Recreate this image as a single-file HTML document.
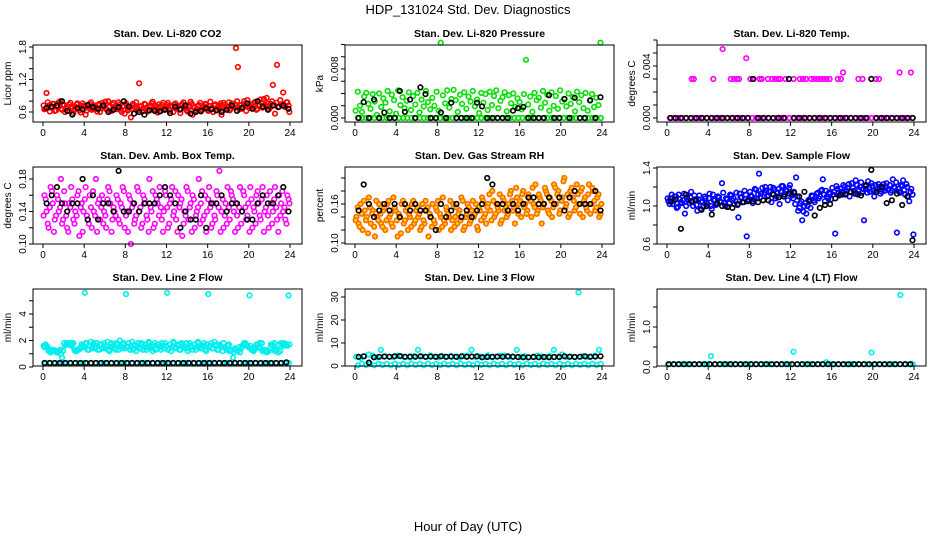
<!DOCTYPE html>
<html><head><meta charset="utf-8"><style>
html,body{margin:0;padding:0;background:#fff}
svg{display:block;font-family:"Liberation Sans",Arial,sans-serif}
</style></head><body>
<svg id="chart" width="936" height="540" viewBox="0 0 936 540" xmlns="http://www.w3.org/2000/svg">
<rect width="936" height="540" fill="#fff"/>
<text x="468" y="14" font-size="13" text-anchor="middle">HDP_131024  Std. Dev. Diagnostics</text>
<text x="468" y="531" font-size="13" text-anchor="middle">Hour of Day (UTC)</text>
</svg>
<script>
const hourTicks=[0,4,8,12,16,20,24];
const co2Red=[0.65,0.95,0.72,0.68,0.75,0.62,0.70,0.78,0.66,0.73,0.60,0.71,0.74,0.67,0.58,0.70,0.76,0.63,0.69,0.72,0.55,0.68,0.75,0.64,0.71,0.66,0.73,0.60,0.77,0.69,0.65,0.80,0.62,0.74,0.68,0.71,0.78,0.64,0.70,0.57,0.72,0.66,0.50,0.75,0.69,0.63,1.13,0.71,0.67,0.74,0.61,0.70,0.76,0.65,0.72,0.59,0.68,0.73,0.64,0.70,0.77,0.62,0.69,0.74,0.66,0.71,0.58,0.75,0.68,0.63,0.72,0.79,0.55,0.70,0.66,0.73,0.61,0.69,0.75,0.64,0.71,0.67,0.60,0.74,0.68,0.72,0.55,0.77,0.65,0.70,0.63,0.76,0.69,1.78,1.43,0.72,0.66,0.80,0.62,0.74,0.70,0.67,0.78,0.64,0.71,0.83,0.68,0.73,0.86,0.65,0.75,1.10,0.57,1.47,0.70,0.74,0.96,0.69,0.78,0.60];
const co2Red2=[0.72,0.66,0.78,0.61,0.70,0.75,0.63,0.69,0.80,0.64,0.73,0.67,0.62,0.77,0.70,0.65,0.74,0.68,0.59,0.76,0.71,0.63,0.69,0.78,0.66,0.72,0.61,0.75,0.67,0.73,0.79,0.64,0.70,0.62,0.77,0.68,0.65,0.74,0.60,0.71,0.76,0.63,0.69,0.66,0.73,0.78,0.64,0.70,0.61,0.75,0.68,0.63,0.72,0.79,0.66,0.70,0.74,0.62,0.77,0.67,0.73,0.65,0.71,0.60,0.76,0.69,0.64,0.72,0.78,0.66,0.61,0.70,0.75,0.68,0.63,0.71,0.77,0.65,0.70,0.74,0.62,0.79,0.67,0.72,0.64,0.70,0.76,0.63,0.73,0.68,0.78,0.66,0.71,0.74,0.80,0.65,0.73,0.69,0.76,0.82,0.67,0.74,0.70,0.79,0.66,0.72,0.77,0.84,0.71,0.75,0.68,0.80,0.73,0.77,0.69,0.82,0.74,0.70,0.78,0.72];
const co2Black=[0.68,0.70,0.72,0.80,0.62,0.55,0.67,0.65,0.73,0.69,0.66,0.72,0.60,0.64,0.69,0.80,0.70,0.57,0.60,0.55,0.63,0.62,0.61,0.64,0.58,0.70,0.65,0.72,0.57,0.60,0.62,0.67,0.65,0.63,0.60,0.64,0.72,0.62,0.68,0.76,0.66,0.80,0.70,0.64,0.72,0.69,0.72,0.66];
const presGreen=[1.2,4.3,2.0,1.0,3.5,4.1,2.3,1.5,3.9,2.7,0.5,4.0,1.8,3.2,2.5,4.4,1.1,3.8,2.9,0.7,4.5,2.1,3.4,1.6,2.8,4.2,1.3,3.6,2.2,4.1,0.9,3.0,1.9,4.4,2.6,1.4,3.3,2.0,4.3,1.2,12.3,3.7,2.4,4.5,1.7,3.1,4.6,2.9,1.0,3.8,2.3,4.2,1.5,3.5,2.7,4.4,1.9,3.0,0.8,4.1,2.5,3.9,1.3,4.3,2.1,3.6,4.5,1.6,2.8,3.4,4.2,1.1,3.7,2.4,4.0,1.8,3.2,2.6,1.4,3.9,9.5,2.2,3.5,1.0,4.1,2.9,3.3,1.7,4.4,2.5,3.8,1.2,4.2,2.0,3.6,1.5,4.5,2.7,3.1,1.9,4.0,2.3,3.4,1.1,4.3,2.6,3.7,1.6,4.1,1.2,2.8,3.9,1.8,3.3,2.1,12.3];
const presGreenBase=[0,0,0,0,0,0,0,0,0,0,0,0,0,0,0,0,0,0,0,0,0,0,0,0,0,0,0,0,0,0,0,0,0,0,0,0,0,0,0,0,0,0,0,0,0,0,0,0,0,0,0,0,0,0,0,0,0,0,0,0];
const presBlack=[0,2.6,0,3.0,0,0.9,0,0,4.4,1.0,3.0,0,5.0,3.9,0,0,0.9,0,2.5,0,0,0,0,2.5,1.9,0,0,0,0,0,1.2,1.6,1.8,0,0,0,0,3.7,0,0,3.1,0,3.3,0,0,2.9,0,3.4];
const tempHighHours=[2.4,2.6,4.5,5.4,6.2,6.5,6.8,7.0,7.7,8.1,8.4,9.0,9.2,9.8,10.2,10.5,10.8,11.0,11.5,12.3,12.9,13.2,13.5,14.0,14.3,14.6,14.9,15.2,15.5,15.8,16.6,16.9,17.1,18.6,19.0,20.3,20.6,22.6,23.7];
const tempHigh=[3,3,3,5.3,3,3,3,3,4.6,3,3,3,3,3,3,3,3,3,3,3,3,3,3,3,3,3,3,3,3,3,3,3,3.5,3,3,3,3,3.5,3.5];
const tempBase=[0,0,0,0,0,0,0,0,0,0,0,0,0,0,0,0,0,0,0,0,0,0,0,0,0,0,0,0,0,0,0,0,0,0,0,0,0,0,0,0,0,0,0,0,0,0,0,0,0,0,0,0,0,0,0,0,0,0,0,0];
const tempBlack=[0,0,0,0,0,0,0,0,0,0,0,0,0,0,0,0,3,0,0,0,0,0,0,3,0,0,0,0,0,0,0,0,0,0,0,0,0,0,0,3,0,0,0,0,0,0,0,0];
const ambMagenta=[0.16,0.14,0.12,0.17,0.15,0.13,0.16,0.14,0.18,0.13,0.15,0.12,0.15,0.17,0.13,0.14,0.16,0.11,0.15,0.14,0.17,0.13,0.16,0.12,0.14,0.18,0.15,0.13,0.16,0.14,0.12,0.17,0.15,0.13,0.14,0.16,0.13,0.15,0.17,0.12,0.14,0.16,0.10,0.15,0.13,0.17,0.14,0.12,0.16,0.15,0.13,0.18,0.14,0.12,0.16,0.15,0.17,0.13,0.14,0.16,0.12,0.15,0.17,0.14,0.13,0.16,0.15,0.11,0.14,0.17,0.13,0.15,0.16,0.12,0.14,0.18,0.15,0.13,0.16,0.14,0.17,0.12,0.15,0.13,0.16,0.19,0.14,0.12,0.15,0.17,0.13,0.16,0.14,0.15,0.12,0.17,0.14,0.16,0.13,0.15,0.17,0.12,0.14,0.16,0.15,0.13,0.17,0.14,0.16,0.12,0.15,0.14,0.17,0.13,0.16,0.15,0.14,0.13,0.16,0.15];
const ambMagenta2=[0.135,0.155,0.125,0.145,0.165,0.115,0.135,0.155,0.145,0.125,0.165,0.135,0.115,0.145,0.155,0.125,0.135,0.165,0.145,0.115,0.155,0.135,0.125,0.145,0.165,0.135,0.115,0.155,0.145,0.125,0.135,0.155,0.165,0.115,0.145,0.135,0.155,0.125,0.145,0.165,0.135,0.115,0.155,0.145,0.125,0.135,0.165,0.145,0.125,0.155,0.135,0.115,0.145,0.165,0.125,0.155,0.135,0.145,0.115,0.165,0.145,0.125,0.155,0.135,0.165,0.115,0.145,0.155,0.125,0.135,0.165,0.145,0.115,0.155,0.135,0.145,0.125,0.165,0.135,0.115,0.155,0.145,0.125,0.135,0.165,0.145,0.115,0.155,0.135,0.125,0.145,0.165,0.155,0.115,0.135,0.145,0.125,0.165,0.145,0.135,0.115,0.155,0.145,0.125,0.165,0.135,0.155,0.115,0.145,0.135,0.165,0.125,0.155,0.145,0.115,0.135,0.165,0.145,0.125,0.155];
const ambBlack=[0.15,0.16,0.17,0.15,0.14,0.15,0.15,0.18,0.13,0.16,0.13,0.15,0.15,0.14,0.19,0.14,0.14,0.15,0.14,0.15,0.15,0.15,0.16,0.17,0.16,0.15,0.12,0.14,0.13,0.13,0.16,0.12,0.15,0.15,0.16,0.14,0.15,0.15,0.14,0.13,0.13,0.15,0.16,0.15,0.15,0.16,0.17,0.14];
const rhOrange=[0.14,0.13,0.16,0.12,0.15,0.14,0.17,0.13,0.15,0.11,0.14,0.16,0.13,0.15,0.12,0.16,0.14,0.13,0.17,0.15,0.11,0.14,0.16,0.13,0.15,0.12,0.14,0.16,0.13,0.15,0.14,0.12,0.16,0.13,0.15,0.11,0.14,0.16,0.13,0.15,0.12,0.14,0.17,0.13,0.15,0.14,0.12,0.16,0.14,0.13,0.15,0.17,0.12,0.14,0.16,0.13,0.15,0.14,0.16,0.12,0.15,0.17,0.14,0.13,0.16,0.15,0.18,0.14,0.16,0.15,0.13,0.17,0.15,0.14,0.16,0.18,0.15,0.13,0.17,0.16,0.14,0.18,0.16,0.15,0.17,0.14,0.16,0.19,0.15,0.17,0.13,0.16,0.18,0.15,0.17,0.14,0.19,0.16,0.18,0.15,0.17,0.20,0.16,0.14,0.18,0.17,0.15,0.19,0.16,0.18,0.14,0.17,0.15,0.19,0.16,0.18,0.15,0.17,0.14,0.16];
const rhOrange2=[0.135,0.155,0.125,0.145,0.165,0.135,0.115,0.155,0.145,0.125,0.165,0.135,0.145,0.125,0.155,0.135,0.165,0.145,0.125,0.155,0.135,0.145,0.115,0.165,0.135,0.155,0.145,0.125,0.165,0.135,0.155,0.145,0.125,0.135,0.165,0.155,0.145,0.125,0.135,0.155,0.165,0.145,0.125,0.135,0.155,0.145,0.165,0.135,0.125,0.155,0.145,0.135,0.165,0.125,0.145,0.155,0.135,0.165,0.145,0.125,0.155,0.135,0.165,0.145,0.155,0.175,0.135,0.165,0.145,0.155,0.175,0.135,0.165,0.155,0.145,0.175,0.165,0.155,0.185,0.145,0.165,0.175,0.155,0.145,0.175,0.165,0.185,0.155,0.145,0.175,0.165,0.155,0.185,0.175,0.145,0.165,0.155,0.185,0.175,0.145,0.165,0.195,0.155,0.175,0.145,0.185,0.165,0.155,0.175,0.145,0.185,0.165,0.155,0.175,0.145,0.185,0.165,0.155,0.175,0.145];
const rhBlack=[0.15,0.19,0.16,0.14,0.15,0.16,0.15,0.16,0.14,0.16,0.15,0.16,0.15,0.15,0.14,0.12,0.16,0.14,0.15,0.16,0.14,0.15,0.14,0.15,0.16,0.20,0.19,0.16,0.16,0.15,0.16,0.15,0.16,0.17,0.17,0.16,0.16,0.17,0.16,0.17,0.15,0.17,0.18,0.16,0.16,0.16,0.18,0.15];
const flowBlue=[1.05,1.08,1.02,1.10,0.98,1.12,1.04,1.06,0.92,1.09,1.03,1.15,1.00,1.07,0.95,1.11,1.04,0.99,1.08,1.02,1.13,0.97,1.06,1.01,1.10,1.05,1.24,1.03,1.08,0.99,1.12,1.06,1.02,1.14,0.88,1.09,1.04,1.16,0.68,1.07,1.11,1.03,1.18,1.08,1.34,1.13,1.06,1.20,1.10,1.15,1.04,1.19,1.08,1.14,1.02,1.21,1.12,1.17,1.06,1.22,1.11,1.15,1.30,0.95,1.03,0.85,1.00,0.92,1.06,0.98,1.10,1.04,1.13,1.08,1.16,1.28,1.05,1.10,1.14,1.07,1.12,0.71,1.18,1.11,1.15,1.22,1.13,1.19,1.10,1.24,1.16,1.27,1.12,1.20,1.14,0.85,1.18,1.26,1.15,1.21,1.10,1.17,1.23,1.13,1.20,1.16,1.24,1.18,1.14,1.28,1.19,0.72,1.15,1.22,1.27,1.12,1.20,1.05,1.18,0.70];
const flowBlue2=[1.08,1.02,1.12,1.05,1.10,0.99,1.07,1.03,1.13,1.00,1.06,1.09,1.04,1.11,1.01,1.07,0.97,1.05,1.10,1.03,1.08,1.00,1.12,1.06,1.02,1.09,1.04,1.14,1.00,1.07,1.03,1.11,1.08,1.05,1.01,1.13,1.09,1.04,1.12,1.06,1.15,1.10,1.07,1.17,1.12,1.09,1.19,1.14,1.16,1.11,1.20,1.13,1.17,1.10,1.18,1.15,1.21,1.12,1.16,1.19,1.14,1.08,1.02,1.10,0.98,1.05,0.94,1.03,1.00,1.07,1.11,1.06,1.09,1.14,1.10,1.17,1.12,1.16,1.08,1.13,1.19,1.15,1.21,1.14,1.18,1.12,1.20,1.16,1.23,1.15,1.19,1.13,1.22,1.17,1.25,1.18,1.21,1.14,1.19,1.24,1.16,1.22,1.18,1.20,1.15,1.23,1.19,1.17,1.22,1.16,1.20,1.25,1.18,1.14,1.21,1.17,1.23,1.10,1.15,1.12];
const flowBlack=[1.05,1.07,0.76,1.12,1.05,1.06,0.96,1.00,0.91,1.03,1.00,0.99,0.98,1.02,1.04,1.05,1.05,1.04,1.06,1.06,1.12,1.09,1.10,1.13,1.14,1.10,1.15,1.05,0.90,0.98,1.01,1.02,1.08,1.12,1.12,1.15,1.13,1.11,1.22,1.38,1.15,1.20,1.03,1.06,1.13,1.01,1.10,0.64];
const line2Cyan=[1.6,1.7,1.5,1.3,1.2,1.3,1.2,1.1,1.3,0.7,1.8,1.7,1.8,1.8,1.7,1.3,1.2,1.3,1.4,1.6,5.6,1.8,1.3,1.9,1.6,1.4,1.8,1.3,1.7,1.5,1.4,1.9,1.2,1.8,1.6,1.3,1.7,2.0,1.4,1.8,5.5,1.5,1.3,1.9,1.6,1.2,1.8,1.4,1.7,1.5,1.3,1.9,1.6,1.2,1.8,1.4,1.7,1.3,1.6,1.8,5.6,1.4,1.2,1.9,1.5,1.7,1.3,1.8,1.6,1.4,1.2,1.8,1.5,1.7,1.3,1.9,1.6,1.4,1.8,1.2,5.5,1.6,1.4,1.9,1.7,1.3,1.6,1.2,1.5,1.3,1.7,1.2,0.7,1.4,1.2,1.5,1.4,1.7,1.8,1.6,5.4,1.3,1.2,1.4,1.7,1.8,1.8,1.3,1.2,1.2,1.4,1.7,1.8,1.3,1.1,1.2,1.7,1.8,1.7,5.4];
const line2Cyan2=[1.5,1.6,1.2,1.1,1.3,1.2,1.1,1.2,1.0,1.2,1.6,1.8,1.7,1.6,1.8,1.2,1.3,1.4,1.7,1.5,1.8,1.3,1.6,1.4,1.8,1.5,1.3,1.7,1.4,1.8,1.6,1.3,1.7,1.5,1.4,1.8,1.3,1.6,1.7,1.4,1.5,1.8,1.6,1.3,1.7,1.5,1.4,1.8,1.3,1.7,1.5,1.8,1.4,1.6,1.3,1.7,1.5,1.8,1.4,1.6,1.3,1.7,1.5,1.8,1.4,1.6,1.3,1.7,1.5,1.8,1.4,1.6,1.3,1.7,1.5,1.8,1.4,1.6,1.3,1.7,1.5,1.8,1.4,1.6,1.3,1.7,1.5,1.8,1.4,1.6,1.2,1.3,1.1,1.3,1.2,1.1,1.5,1.8,1.7,1.5,1.6,1.4,1.3,1.7,1.5,1.4,1.2,1.3,1.1,1.2,1.7,1.6,1.2,1.3,1.7,1.8,1.6,1.7,1.6,1.7];
const line2Base=[0.3,0.3,0.3,0.3,0.3,0.3,0.3,0.3,0.3,0.3,0.3,0.3,0.3,0.3,0.3,0.3,0.3,0.3,0.3,0.3,0.3,0.3,0.3,0.3,0.3,0.3,0.3,0.3,0.3,0.3,0.3,0.3,0.3,0.3,0.3,0.3,0.3,0.3,0.3,0.3,0.3,0.3,0.3,0.3,0.3,0.3,0.3,0.3,0.3,0.3,0.3,0.3,0.3,0.3,0.3,0.3,0.3,0.3,0.3,0.3];
const line2Black=[0.3,0.3,0.3,0.3,0.3,0.3,0.3,0.3,0.3,0.3,0.3,0.3,0.3,0.3,0.3,0.3,0.3,0.3,0.3,0.3,0.3,0.3,0.3,0.3,0.3,0.3,0.3,0.3,0.3,0.3,0.3,0.3,0.3,0.3,0.3,0.3,0.3,0.3,0.3,0.3,0.3,0.3,0.3,0.3,0.3,0.3,0.3,0.35];
const line3Cyan=[4,3.5,4.2,5,4.5,3.8,7,4.3,4.1,3.9,4.5,4.2,4.0,3.7,4.4,7,4.2,3.9,4.6,4.1,3.8,4.3,4.0,4.4,4.1,3.6,4.3,4.5,7,3.9,4.2,4.0,4.6,3.8,4.1,4.4,4.5,3.9,4.2,7,4.0,4.3,3.8,4.1,4.5,4.2,4.0,4.4,7,4.1,5,3.9,4.2,4.0,32,4.3,3.8,4.1,4.5,7];
const line3Base=[0.3,1.0,0.4,0.9,0.3,1.0,0.5,0.9,0.3,1.0,0.4,0.9,0.3,1.0,0.5,0.9,0.3,1.0,0.4,0.9,0.3,1.0,0.5,0.9,0.3,1.0,0.4,0.9,0.3,1.0,0.5,0.9,0.3,1.0,0.4,0.9,0.3,1.0,0.5,0.9,0.3,1.0,0.4,0.9,0.3,1.0,0.5,0.9,0.3,1.0,0.4,0.9,0.3,1.0,0.5,0.9,0.3,1.0,0.4,0.9];
const line3Black=[4.0,4.2,1.5,3.8,4.0,4.1,4.0,4.2,4.3,4.0,4.1,4.0,4.2,4.0,4.1,4.0,4.2,4.0,4.1,4.0,4.2,4.0,4.1,4.2,3.8,3.9,4.0,4.1,4.0,4.2,4.0,3.9,3.8,3.8,3.9,3.8,3.9,3.8,3.9,3.9,4.2,4.0,3.9,4.0,4.2,4.0,4.1,4.2];
const line4Cyan=[0.07,0.07,0.07,0.07,0.07,0.07,0.07,0.07,0.07,0.07,0.27,0.07,0.07,0.07,0.07,0.07,0.07,0.07,0.07,0.07,0.07,0.07,0.07,0.07,0.07,0.07,0.07,0.07,0.07,0.07,0.38,0.07,0.07,0.07,0.07,0.07,0.07,0.07,0.12,0.07,0.07,0.07,0.07,0.07,0.07,0.07,0.07,0.07,0.07,0.36,0.07,0.07,0.07,0.07,0.07,0.07,1.8,0.07,0.07,0.07];
const line4Black=[0.07,0.07,0.07,0.07,0.07,0.07,0.07,0.07,0.07,0.07,0.07,0.07,0.07,0.07,0.07,0.07,0.07,0.07,0.07,0.07,0.07,0.07,0.07,0.07,0.07,0.07,0.07,0.07,0.07,0.07,0.07,0.07,0.07,0.07,0.07,0.07,0.07,0.07,0.07,0.07,0.07,0.07,0.07,0.07,0.07,0.07,0.07,0.07];

const NS='http://www.w3.org/2000/svg';
const svg=document.getElementById('chart');
function mk(tag,attrs,parent){const e=document.createElementNS(NS,tag);for(const k in attrs)e.setAttribute(k,attrs[k]);(parent||svg).appendChild(e);return e;}

const panels=[
 {name:'co2',title:'Stan. Dev. Li-820 CO2',ylab:'Licor ppm',a:[0.6,112],b:[1.8,47],ticks:[0.6,0.8,1.0,1.2,1.4,1.6,1.8],labels:{'0.6':'0.6','1.2':'1.2','1.8':'1.8'},
  series:[[null,co2Red,'#ff0000','none'],[null,co2Red2,'#ff0000','none'],[null,co2Black,'#000','none']]},
 {name:'pressure',title:'Stan. Dev. Li-820 Pressure',ylab:'kPa',a:[0,118],b:[8,69],ticks:[0,2,4,6,8,10,12],labels:{'0':'0.000','8':'0.008'},
  series:[[null,presGreenBase,'#00e000','none'],[null,presGreen,'#00e000','none'],[null,presBlack,'#000','none']]},
 {name:'temp',title:'Stan. Dev. Li-820 Temp.',ylab:'degrees C',a:[0,118],b:[4,66],ticks:[0,1,2,3,4,5,6],labels:{'0':'0.000','4':'0.004'},
  series:[[null,tempBase,'#ff00ff','none'],[tempHighHours,tempHigh,'#ff00ff','none'],[null,tempBlack,'#000','none']]},
 {name:'amb-temp',title:'Stan. Dev. Amb. Box Temp.',ylab:'degrees C',a:[0.10,122],b:[0.18,57],ticks:[0.10,0.12,0.14,0.16,0.18],labels:{'0.1':'0.10','0.14':'0.14','0.18':'0.18'},
  series:[[null,ambMagenta,'#ff00ff','none'],[null,ambMagenta2,'#ff00ff','none'],[null,ambBlack,'#000','none']]},
 {name:'rh',title:'Stan. Dev. Gas Stream RH',ylab:'percent',a:[0.10,121],b:[0.16,82],ticks:[0.10,0.12,0.14,0.16,0.18,0.20],labels:{'0.1':'0.10','0.16':'0.16'},
  series:[[null,rhOrange,'#ff6a00','#ffd400'],[null,rhOrange2,'#ff6a00','#ffd400'],[null,rhBlack,'#000','none']]},
 {name:'sample-flow',title:'Stan. Dev. Sample Flow',ylab:'ml/min',a:[0.6,122],b:[1.4,46],ticks:[0.6,0.8,1.0,1.2,1.4],labels:{'0.6':'0.6','1':'1.0','1.4':'1.4'},
  series:[[null,flowBlue,'#0000ff','none'],[null,flowBlue2,'#0000ff','none'],[null,flowBlack,'#000','none']]},
 {name:'line2-flow',title:'Stan. Dev. Line 2 Flow',ylab:'ml/min',a:[0,123],b:[4,70],ticks:[0,1,2,3,4,5],labels:{'0':'0','2':'2','4':'4'},
  series:[[null,line2Base,'#00eeee','none'],[null,line2Cyan,'#00eeee','none'],[null,line2Cyan2,'#00eeee','none'],[null,line2Black,'#000','none']]},
 {name:'line3-flow',title:'Stan. Dev. Line 3 Flow',ylab:'ml/min',a:[0,122],b:[30,53],ticks:[0,10,20,30],labels:{'0':'0','10':'10','20':'20','30':'30'},
  series:[[null,line3Base,'#00eeee','none'],[null,line3Cyan,'#00eeee','none'],[null,line3Black,'#000','none']]},
 {name:'line4-flow',title:'Stan. Dev. Line 4 (LT) Flow',ylab:'ml/min',a:[0,123],b:[1.0,83],ticks:[0,0.5,1.0,1.5],labels:{'0':'0.0','1':'1.0'},
  series:[[null,line4Cyan,'#00eeee','none'],[null,line4Black,'#000','none']]}
];

panels.forEach((p,idx)=>{
  const col=idx%3,row=Math.floor(idx/3);
  const dx=312*col,dy=122*row;
  const L=33+dx,R=302+dx,T=45+dy,B=122+dy;
  const xs=h=>43+dx+h*247/24;
  const ys=v=>dy+p.a[1]+(v-p.a[0])*(p.b[1]-p.a[1])/(p.b[0]-p.a[0]);
  const g=mk('g',{});
  
  
  const t=mk('text',{x:(L+R)/2,y:T-8,'font-size':10.5,'font-weight':'bold','text-anchor':'middle'},g);
  t.textContent=p.title;
  
  
  const yl=mk('text',{x:0,y:0,'font-size':10,'text-anchor':'middle',transform:`translate(${L-22},${(T+B)/2}) rotate(-90)`},g);
  yl.textContent=p.ylab;
  
  
  const pg=mk('g',{},g);
  p.series.forEach((s,si)=>{
    const hx=s[0],vals=s[1];
    const off=(si%2)?0.3:0.7;
    vals.forEach((v,i)=>{
      const h=hx?hx[i]:(i+off)*24/vals.length;
      const c=mk('circle',{cx:xs(h).toFixed(1),cy:ys(v).toFixed(1),r:2.3,fill:s[3],stroke:s[2],'stroke-width':1.6},pg);
      
      
    });
  });
  const box=mk('rect',{x:L,y:T,width:R-L,height:B-T,fill:'none',stroke:'#000','stroke-width':1},g);
  
  
  mk('line',{x1:xs(0),x2:xs(24),y1:B,y2:B,stroke:'#000'},g);
  hourTicks.forEach(h=>{
    mk('line',{x1:xs(h),x2:xs(h),y1:B,y2:B+4,stroke:'#000'},g);
    const tl=mk('text',{x:xs(h),y:B+14,'font-size':10,'text-anchor':'middle'},g);
    tl.textContent=h;
    
    
  });
  mk('line',{x1:L,x2:L,y1:ys(p.ticks[0]),y2:ys(p.ticks[p.ticks.length-1]),stroke:'#000'},g);
  p.ticks.forEach(v=>{
    const y=ys(v);
    mk('line',{x1:L-4,x2:L,y1:y,y2:y,stroke:'#000'},g);
    const key=String(+v.toFixed(4));
    if(p.labels[key]){
      const tl=mk('text',{x:0,y:0,'font-size':10,'text-anchor':'middle',transform:`translate(${L-7},${y}) rotate(-90)`},g);
      tl.textContent=p.labels[key];
      
      
    }
  });
});
</script>
</body></html>
